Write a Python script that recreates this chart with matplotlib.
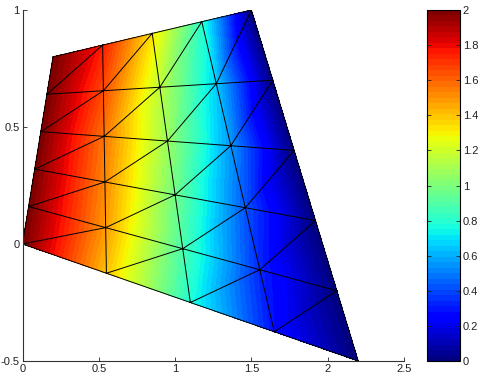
import numpy as np
import matplotlib
matplotlib.use("Agg")
import matplotlib.pyplot as plt
import matplotlib.tri as mtri

plt.rcParams['font.family'] = ['Liberation Sans', 'DejaVu Sans']
plt.rcParams['axes.unicode_minus'] = False

# Node coordinates of the structured mesh (rows bottom->top, cols left->right)
x_nodes = [
    [0.00, 0.550, 1.10, 1.650, 2.20],
    [0.04, 0.545, 1.05, 1.555, 2.06],
    [0.08, 0.540, 1.00, 1.460, 1.92],
    [0.12, 0.535, 0.95, 1.365, 1.78],
    [0.16, 0.530, 0.90, 1.270, 1.64],
    [0.20, 0.525, 0.85, 1.175, 1.50],
]
y_nodes = [
    [0.00, -0.125, -0.25, -0.375, -0.50],
    [0.16, 0.070, -0.02, -0.110, -0.20],
    [0.32, 0.265, 0.21, 0.155, 0.10],
    [0.48, 0.460, 0.44, 0.420, 0.40],
    [0.64, 0.655, 0.67, 0.685, 0.70],
    [0.80, 0.850, 0.90, 0.950, 1.00],
]
u_nodes = [
    [2.0, 1.40, 0.78, 0.28, 0.0],
    [2.0, 1.48, 0.88, 0.33, 0.0],
    [2.0, 1.52, 0.97, 0.42, 0.0],
    [2.0, 1.56, 1.07, 0.55, 0.0],
    [2.0, 1.65, 1.15, 0.65, 0.0],
    [2.0, 1.75, 1.33, 0.80, 0.0],
]
xticks = [0, 0.5, 1, 1.5, 2, 2.5]
xticklabels = ['0', '0.5', '1', '1.5', '2', '2.5']
yticks = [-0.5, 0, 0.5, 1]
yticklabels = ['-0.5', '0', '0.5', '1']
cticks = [0, 0.2, 0.4, 0.6, 0.8, 1.0, 1.2, 1.4, 1.6, 1.8, 2.0]
cticklabels = ['0', '0.2', '0.4', '0.6', '0.8', '1', '1.2', '1.4', '1.6', '1.8', '2']

X = np.array(x_nodes)
Y = np.array(y_nodes)
U = np.array(u_nodes)
nr, nc = X.shape
tris = []
for j in range(nr - 1):
    for i in range(nc - 1):
        a = j * nc + i
        b = a + 1
        c = a + nc + 1
        d = a + nc
        tris.append([a, b, c])
        tris.append([a, c, d])
tri = mtri.Triangulation(X.ravel(), Y.ravel(), np.array(tris))

W, H = 481, 376
fig = plt.figure(figsize=(W / 100, H / 100), dpi=100)
ax = fig.add_axes([22.5 / W, 1 - 361 / H, (404 - 22.5) / W, (361 - 10) / H])
cax = fig.add_axes([427 / W, 1 - 361 / H, 33 / W, 351 / H])

cmap = plt.get_cmap('jet', 64)
levels = np.linspace(0, 2, 65)
cs = ax.tricontourf(tri, U.ravel(), levels=levels, cmap=cmap, vmin=0, vmax=2)
ax.triplot(tri, color='k', lw=0.7)

ax.set_xlim(0, 2.5)
ax.set_ylim(-0.5, 1)
ax.set_xticks(xticks)
ax.set_xticklabels(xticklabels)
ax.set_yticks(yticks)
ax.set_yticklabels(yticklabels)
for s in ['top', 'right']:
    ax.spines[s].set_visible(False)
for s in ['left', 'bottom']:
    ax.spines[s].set_linewidth(0.8)
    ax.spines[s].set_color('#333333')
ax.tick_params(direction='in', length=3, width=0.6, labelsize=8, pad=2, colors='#222222')

cb = fig.colorbar(cs, cax=cax, ticks=cticks)
cb.set_ticklabels(cticklabels)
cb.outline.set_linewidth(0.8)
cax.tick_params(direction='in', length=3, width=0.6, labelsize=8, pad=2,
                left=True, right=True, colors='#222222')

fig.savefig('out.png', dpi=100)
